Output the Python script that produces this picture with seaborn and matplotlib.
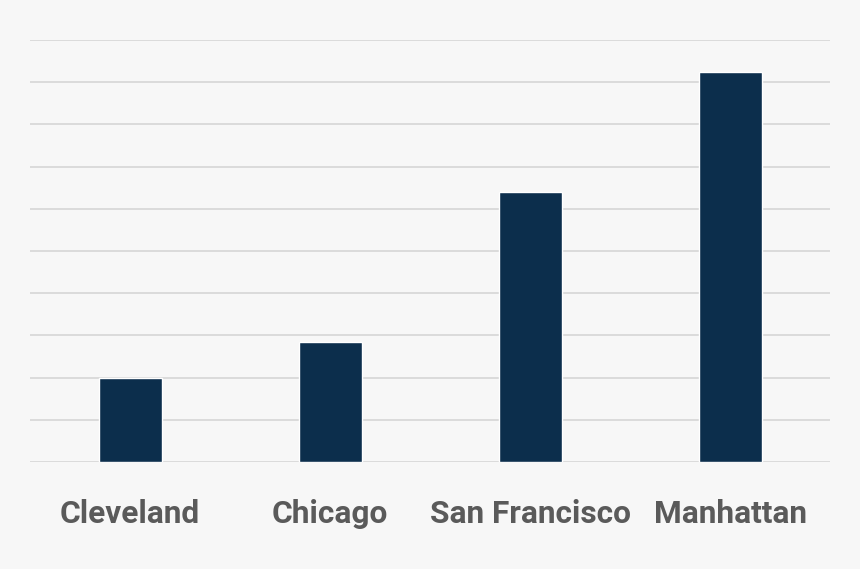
import matplotlib
matplotlib.use("Agg")
import matplotlib.pyplot as plt
import seaborn as sns
import pandas as pd

cities = ["Cleveland", "Chicago", "San Francisco", "Manhattan"]
values = [2.0, 2.84, 6.4, 9.23]

df = pd.DataFrame({"city": cities, "value": values})

sns.set_theme(style="whitegrid")
plt.rcParams["font.family"] = ["Roboto", "DejaVu Sans"]

fig = plt.figure(figsize=(8.6, 5.69), dpi=100, facecolor="#f7f7f7")
ax = fig.add_axes([30/860, 1-462/569, 800/860, (462-40)/569])
ax.set_facecolor("#f7f7f7")

sns.barplot(data=df, x="city", y="value", color="#0c2e4c", width=0.315,
            saturation=1, ax=ax)

ax.set_xlim(-0.5, 3.5)
ax.set_ylim(0, 10)
ax.set_yticks(range(0, 11))
ax.set_yticklabels([])
ax.tick_params(axis="y", length=0)
ax.tick_params(axis="x", length=0, pad=26.5, labelsize=22.8, labelcolor="#5a5a5a")
for lbl in ax.get_xticklabels():
    lbl.set_fontweight("bold")
ax.grid(axis="y", color="#d9d9d9", linewidth=1.3)
ax.grid(axis="x", visible=False)
ax.set_axisbelow(True)
for s in ax.spines.values():
    s.set_visible(False)
ax.set_xlabel("")
ax.set_ylabel("")

fig.savefig("out.png", dpi=100, facecolor="#f7f7f7")
